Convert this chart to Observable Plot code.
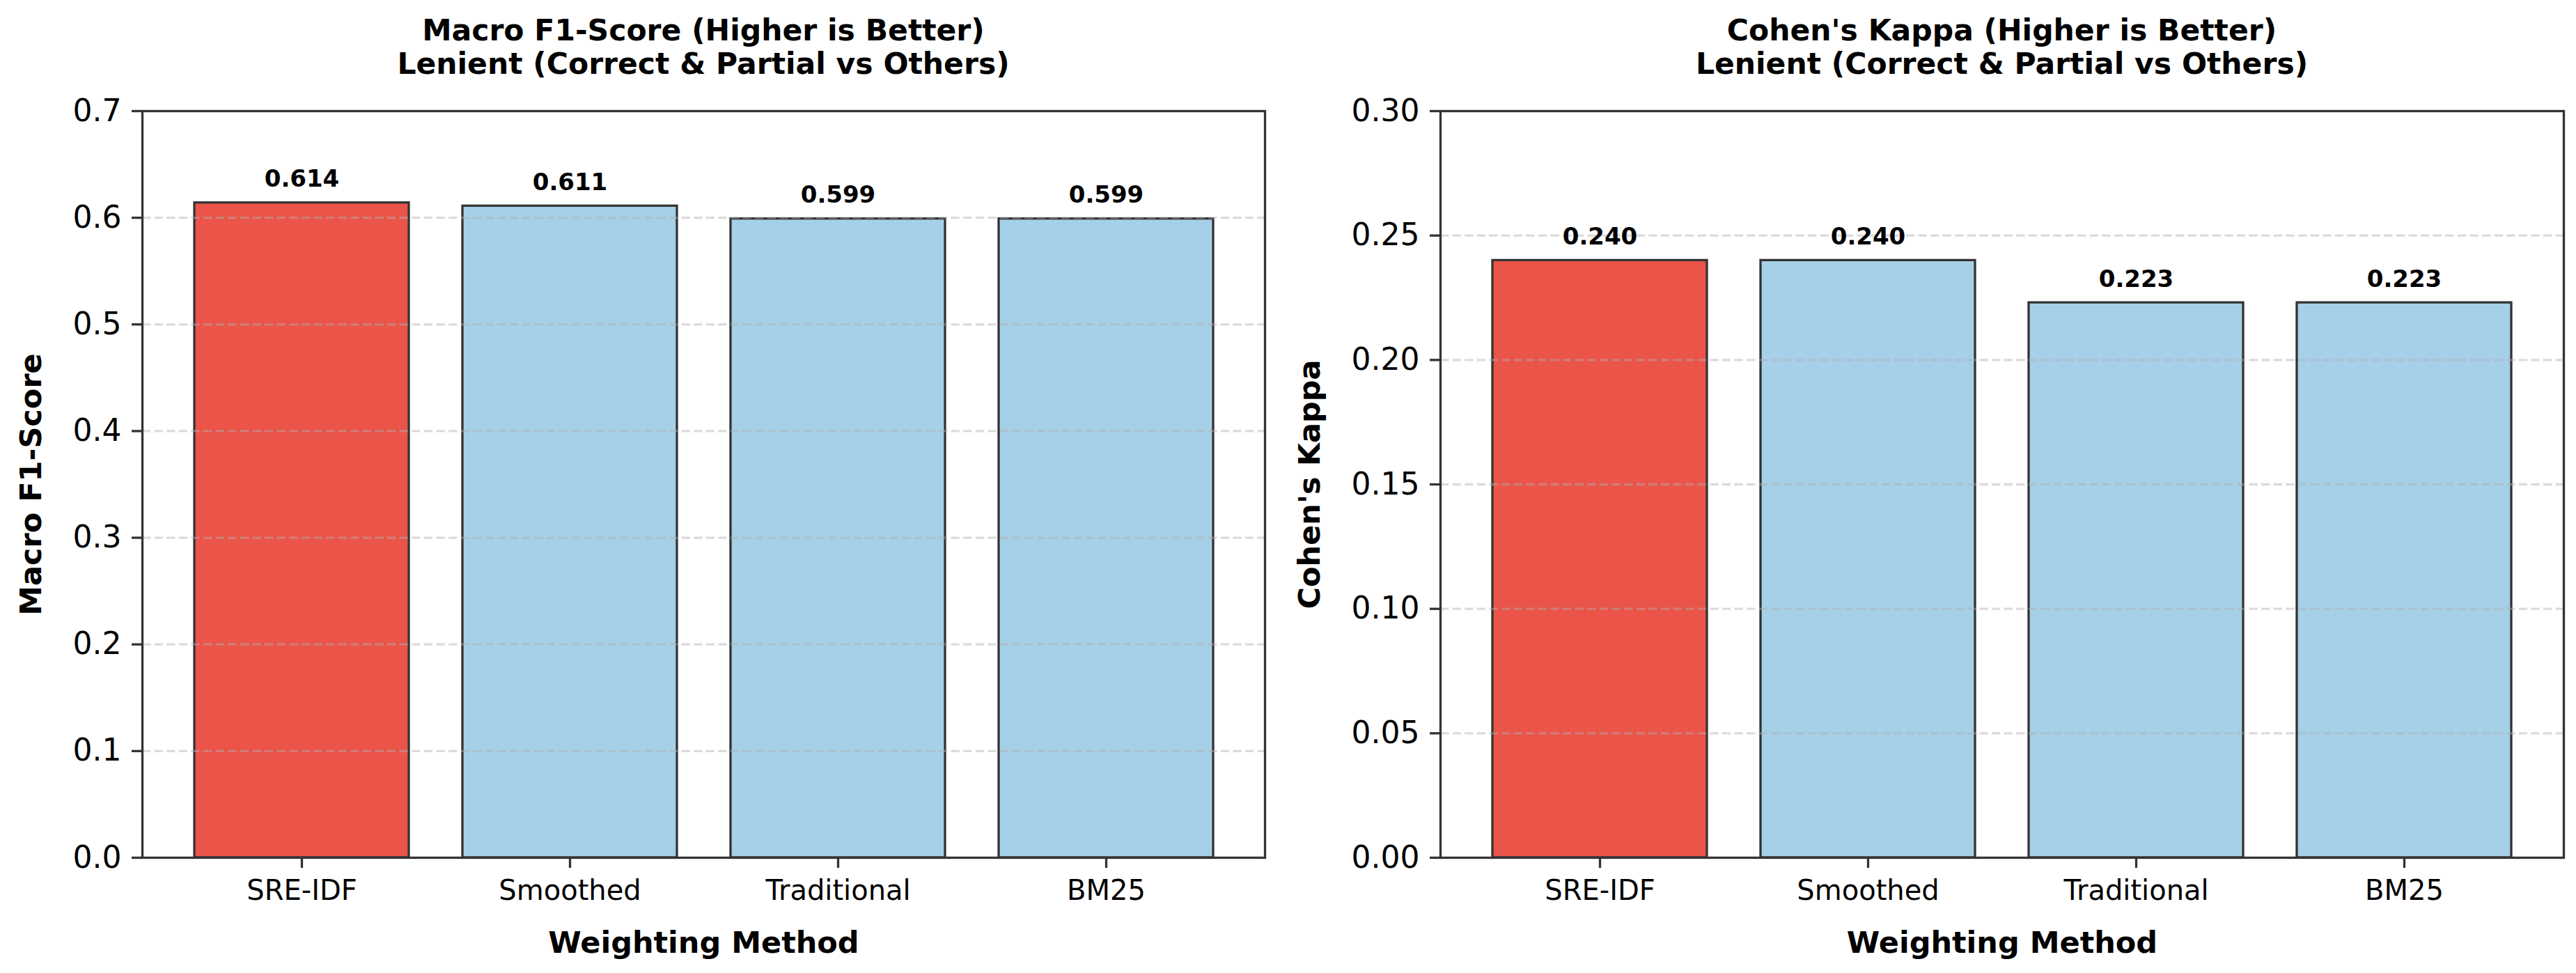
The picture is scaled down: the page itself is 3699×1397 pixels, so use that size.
<!DOCTYPE html>
<html><head><meta charset="utf-8">
<script src="https://cdn.jsdelivr.net/npm/d3@7"></script>
<script src="https://cdn.jsdelivr.net/npm/@observablehq/plot@0.6"></script>
<style>
html,body{margin:0;padding:0;background:#fff;}
body{width:3699px;height:1397px;position:relative;overflow:hidden;font-family:"DejaVu Sans";}
.panel{position:absolute;top:0;height:1397px;}
.title{position:absolute;top:20px;font-family:"DejaVu Sans";font-weight:bold;font-size:42.5px;line-height:48px;text-align:center;white-space:nowrap;color:#000;}
.panel svg{position:absolute;top:130px;left:0;}
</style></head><body>
<div id="p1" class="panel"></div>
<div id="p2" class="panel"></div>
<script>
const methods = ["SRE-IDF", "Smoothed", "Traditional", "BM25"];
const f1Values = [0.614, 0.611, 0.599, 0.599];
const kappaValues = [0.240, 0.240, 0.223, 0.223];
const f1Ticks = [0, 0.1, 0.2, 0.3, 0.4, 0.5, 0.6, 0.7];
const kappaTicks = [0, 0.05, 0.10, 0.15, 0.20, 0.25, 0.30];
const f1Title = ["Macro F1-Score (Higher is Better)", "Lenient (Correct & Partial vs Others)"];
const kappaTitle = ["Cohen's Kappa (Higher is Better)", "Lenient (Correct & Partial vs Others)"];
const f1Label = "Macro F1-Score";
const kappaLabel = "Cohen's Kappa";
const xLabel = "Weighting Method";
const highlight = "SRE-IDF";

const RED = "#EB5449", BLUE = "#A6D0E8", EDGE = "#333333";

function panel(id, cfg) {
  const el = document.getElementById(id);
  el.style.left = cfg.left + "px";
  el.style.width = cfg.width + "px";
  const t = document.createElement("div");
  t.className = "title";
  t.style.left = cfg.ml + "px";
  t.style.width = (cfg.width - cfg.ml - cfg.mr) + "px";
  t.innerHTML = cfg.title.map(s => s.replace(/&/g, "&amp;")).join("<br>");
  el.appendChild(t);
  const data = methods.map((m, i) => ({method: m, value: cfg.values[i]}));
  const chart = Plot.plot({
    width: cfg.width, height: 1267,
    marginLeft: cfg.ml, marginRight: cfg.mr, marginTop: 29, marginBottom: 166,
    style: {fontFamily: "DejaVu Sans", background: "#fff", color: "#000", overflow: "visible"},
    x: {domain: methods, paddingInner: 0.2, paddingOuter: 0.19, label: null},
    y: {domain: [cfg.ticks[0], cfg.ticks[cfg.ticks.length - 1]], label: null},
    color: {domain: ["hi", "lo"], range: [RED, BLUE]},
    marks: [
      Plot.barY(data, {x: "method", y: "value", fill: d => d.method === highlight ? "hi" : "lo", stroke: EDGE, strokeWidth: 3.3}),
      Plot.gridY(cfg.ticks.slice(1, -1), {stroke: "#b0b0b0", strokeOpacity: 0.45, strokeWidth: 3.3, strokeDasharray: "12.3,5.3"}),
      Plot.axisY(cfg.ticks, {tickSize: 15, tickPadding: 15, fontSize: 44, tickFormat: cfg.fmt, stroke: EDGE, strokeWidth: 3.3, label: null}),
      Plot.axisX({tickSize: 15, tickPadding: 17, fontSize: 40, label: null, stroke: EDGE, strokeWidth: 3.3}),
      Plot.text(data, {x: "method", y: "value", text: d => d.value.toFixed(3), dy: -34, fontSize: 34, fontWeight: "bold", fill: "#000", lineAnchor: "middle"}),
      Plot.frame({stroke: EDGE, strokeWidth: 3.3}),
      Plot.text([cfg.yLabel], {frameAnchor: "left", dx: cfg.ylabelDx, rotate: -90, textAnchor: "middle", lineAnchor: "middle", fontSize: 43, fontWeight: "bold", fill: "#000"}),
      Plot.text([xLabel], {frameAnchor: "bottom", dy: 123, textAnchor: "middle", lineAnchor: "middle", fontSize: 43, fontWeight: "bold", fill: "#000"})
    ]
  });
  el.appendChild(chart);
}

panel("p1", {left: 0, width: 1849, ml: 204, mr: 33, values: f1Values, ticks: f1Ticks, fmt: d3.format(".1f"), yLabel: f1Label, title: f1Title, ylabelDx: -159});
panel("p2", {left: 1849, width: 1850, ml: 219, mr: 18, values: kappaValues, ticks: kappaTicks, fmt: d3.format(".2f"), yLabel: kappaLabel, title: kappaTitle, ylabelDx: -187});
</script>
</body></html>
